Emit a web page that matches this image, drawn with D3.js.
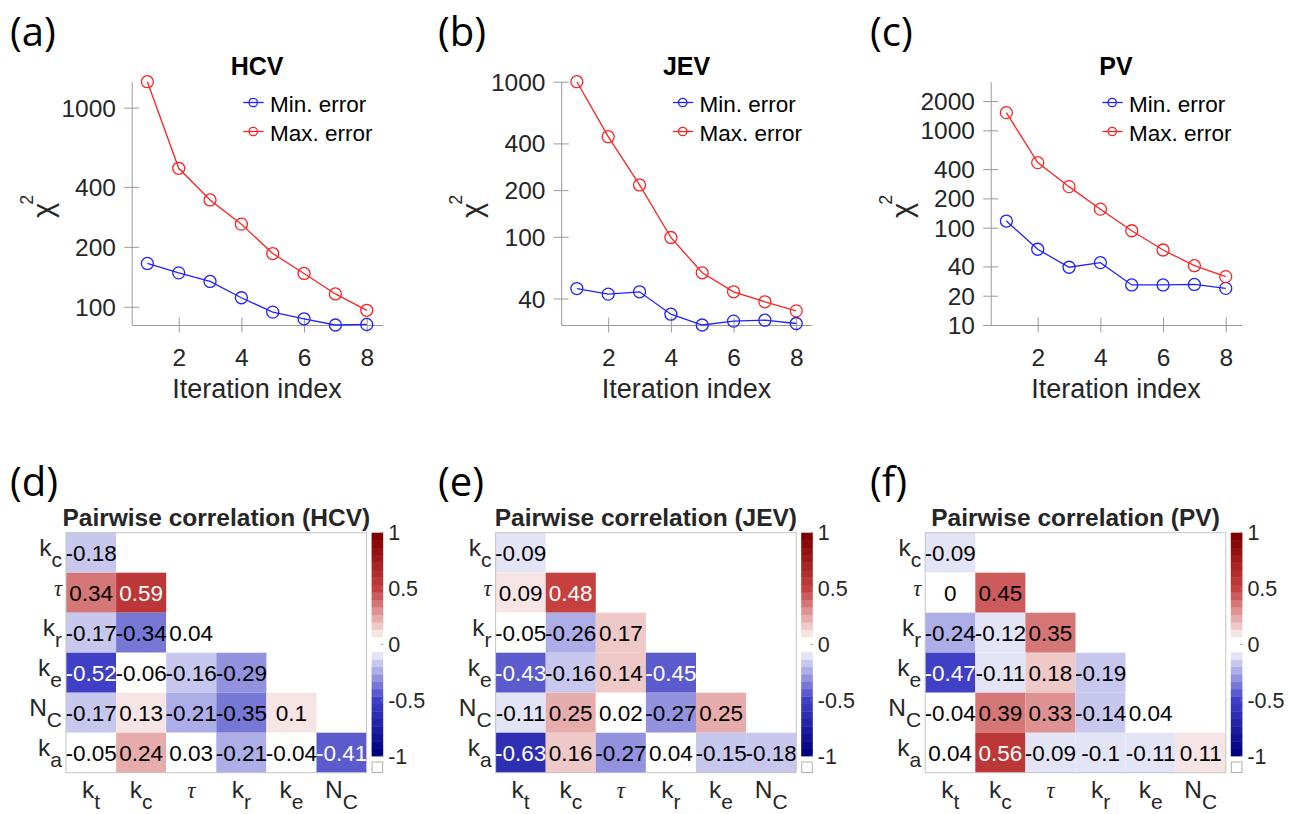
<!DOCTYPE html>
<html>
<head>
<meta charset="utf-8">
<script src="https://cdn.jsdelivr.net/npm/d3@7"></script>
<style>
  html, body { margin: 0; padding: 0; background: #ffffff; }
  svg { display: block; }
</style>
</head>
<body>
<svg id="chart" width="1295" height="814"></svg>
<script>
// ---------------- DATA ----------------
const iterations = [1, 2, 3, 4, 5, 6, 7, 8];
const xTickValues = [2, 4, 6, 8];

const hcvMinError = [165, 148, 134, 111, 94, 87, 81, 81.5];
const hcvMaxError = [1350, 496, 344, 260, 185, 147, 116, 96];
const hcvYTicks = [100, 200, 400, 1000];

const jevMinError = [46.4, 42.7, 44.2, 31.7, 27, 28.6, 29, 27.6];
const jevMaxError = [1000, 442, 216, 99, 58.6, 44.2, 38.1, 33.3];
const jevYTicks = [40, 100, 200, 400, 1000];

const pvMinError = [117, 60, 39.2, 43.7, 25.8, 25.8, 26.1, 23.8];
const pvMaxError = [1520, 466, 264, 155, 93, 59, 40.7, 31.4];
const pvYTicks = [10, 20, 40, 100, 200, 400, 1000, 2000];
const pvYDomain = [10, 3162];

const seriesNames = ["Min. error", "Max. error"];
const lineTitles = ["HCV", "JEV", "PV"];

const heatRowLabels = ["k_c", "τ", "k_r", "k_e", "N_C", "k_a"];
const heatColLabels = ["k_t", "k_c", "τ", "k_r", "k_e", "N_C"];

const hcvCorr = [
  [-0.18],
  [0.34, 0.59],
  [-0.17, -0.34, 0.04],
  [-0.52, -0.06, -0.16, -0.29],
  [-0.17, 0.13, -0.21, -0.35, 0.1],
  [-0.05, 0.24, 0.03, -0.21, -0.04, -0.41]
];
const jevCorr = [
  [-0.09],
  [0.09, 0.48],
  [-0.05, -0.26, 0.17],
  [-0.43, -0.16, 0.14, -0.45],
  [-0.11, 0.25, 0.02, -0.27, 0.25],
  [-0.63, 0.16, -0.27, 0.04, -0.15, -0.18]
];
const pvCorr = [
  [-0.09],
  [0, 0.45],
  [-0.24, -0.12, 0.35],
  [-0.47, -0.11, 0.18, -0.19],
  [-0.04, 0.39, 0.33, -0.14, 0.04],
  [0.04, 0.56, -0.09, -0.1, -0.11, 0.11]
];
const heatTitles = ["Pairwise correlation (HCV)", "Pairwise correlation (JEV)", "Pairwise correlation (PV)"];
const colorbarTicks = [-1, -0.5, 0, 0.5, 1];
const panelTags = ["(a)", "(b)", "(c)", "(d)", "(e)", "(f)"];

// ---------------- STYLE / LAYOUT ----------------
const SANS = "'Liberation Sans', Arial, Helvetica, sans-serif";
const SERIF = "'Liberation Serif', 'Times New Roman', serif";
const TAGFONT = "'Open Sans', 'Noto Sans', sans-serif";
const AXIS_COLOR = "#9a9a9a";
const TEXT_COLOR = "#262626";
const BLUE = "#2222ff";
const RED = "#ff2222";

const svg = d3.select("#chart");

// ---------------- LINE CHARTS ----------------
const lineConfigs = [
  { min: hcvMinError, max: hcvMaxError, ticks: hcvYTicks, domain: d3.extent(hcvMinError.concat(hcvMaxError)) },
  { min: jevMinError, max: jevMaxError, ticks: jevYTicks, domain: d3.extent(jevMinError.concat(jevMaxError)) },
  { min: pvMinError, max: pvMaxError, ticks: pvYTicks, domain: pvYDomain }
];

const plotTop = 81.7, plotBottom = 325, plotWidth = 250.7;

lineConfigs.forEach((cfg, i) => {
  const L = 131.7 + i * 429.5;
  const g = svg.append("g");
  const x = d3.scaleLinear().domain([0.5, 8.5]).range([L, L + plotWidth]);
  const y = d3.scaleLog().domain(cfg.domain).range([plotBottom, plotTop]);

  // x axis
  const gx = g.append("g")
    .attr("transform", `translate(0,${plotBottom})`)
    .call(d3.axisBottom(x).tickValues(xTickValues).tickSizeInner(7.5).tickSizeOuter(0).tickPadding(16));
  gx.selectAll(".tick line").attr("y1", -7.5).attr("stroke", AXIS_COLOR);
  gx.select(".domain").attr("stroke", AXIS_COLOR);
  gx.selectAll(".tick text").attr("font-family", SANS).attr("font-size", 24.5).attr("fill", TEXT_COLOR);

  // y axis
  const gy = g.append("g")
    .attr("transform", `translate(${L},0)`)
    .call(d3.axisLeft(y).tickValues(cfg.ticks).tickFormat(d3.format("d")).tickSizeInner(7.5).tickSizeOuter(0).tickPadding(8.3));
  gy.selectAll(".tick line").attr("x1", 7.5).attr("stroke", AXIS_COLOR);
  gy.select(".domain").attr("stroke", AXIS_COLOR);
  gy.selectAll(".tick text").attr("font-family", SANS).attr("font-size", 24.5).attr("fill", TEXT_COLOR).attr("dy", "0.35em");

  // axis labels
  g.append("text")
    .attr("x", L + plotWidth / 2).attr("y", 398)
    .attr("text-anchor", "middle")
    .attr("font-family", SANS).attr("font-size", 27).attr("fill", TEXT_COLOR)
    .text("Iteration index");

  const yl = g.append("text")
    .attr("transform", `translate(${L - 79},218) rotate(-90)`)
    .attr("font-family", SANS).attr("fill", TEXT_COLOR);
  yl.append("tspan").attr("font-size", 29).text("χ");
  yl.append("tspan").attr("font-size", 18).attr("dy", -20).attr("dx", -2).text("2");

  // title
  g.append("text")
    .attr("x", L + plotWidth / 2).attr("y", 75)
    .attr("text-anchor", "middle")
    .attr("font-family", SANS).attr("font-weight", "bold").attr("font-size", 25).attr("fill", "#000")
    .text(lineTitles[i]);

  // series
  const series = [{ vals: cfg.min, color: BLUE }, { vals: cfg.max, color: RED }];
  series.forEach(s => {
    const line = d3.line().x((d, k) => x(iterations[k])).y(d => y(d));
    g.append("path").datum(s.vals)
      .attr("d", line).attr("fill", "none").attr("stroke", s.color).attr("stroke-width", 1.3);
    g.selectAll(null).data(s.vals).enter().append("circle")
      .attr("cx", (d, k) => x(iterations[k])).attr("cy", d => y(d))
      .attr("r", 6).attr("fill", "none").attr("stroke", s.color).attr("stroke-width", 1.3);
  });

  // legend
  const legY = [102.5, 131.5];
  series.forEach((s, k) => {
    const lg = g.append("g");
    lg.append("line").attr("x1", L + 111.6).attr("x2", L + 132).attr("y1", legY[k]).attr("y2", legY[k])
      .attr("stroke", s.color).attr("stroke-width", 1.3);
    lg.append("circle").attr("cx", L + 121.5).attr("cy", legY[k]).attr("r", 4.2)
      .attr("fill", "none").attr("stroke", s.color).attr("stroke-width", 1.3);
    lg.append("text").attr("x", L + 138.3).attr("y", legY[k] + 9.5)
      .attr("font-family", SANS).attr("font-size", 22.5).attr("fill", "#000")
      .text(seriesNames[k]);
  });

  // panel tag
  svg.append("text").attr("x", [10, 438, 870][i]).attr("y", 46)
    .attr("font-family", TAGFONT).attr("font-size", 40).attr("fill", "#000")
    .text(panelTags[i]);
});

// ---------------- HEATMAPS ----------------
const NBINS = 30;
const colorCont = d3.scaleLinear()
  .domain([-1, -0.5, 0, 0.5, 1])
  .range(["#000080", "#4040c6", "#ffffff", "#c64040", "#800000"])
  .interpolate(d3.interpolateRgb);
function binIndex(v) {
  let k = Math.floor((v + 1) / 2 * NBINS + 1e-9);
  return Math.max(0, Math.min(NBINS - 1, k));
}
function binColor(k) {
  const half = NBINS / 2;
  const t = k < half ? -1 + k / (half - 1) : (k - half) / (half - 1);
  return colorCont(t);
}
function cellColor(v) { return binColor(binIndex(v)); }
function textColorFor(fill) {
  const c = d3.rgb(fill);
  const lum = 0.2126 * c.r + 0.7152 * c.g + 0.0722 * c.b;
  return lum < 105 ? "#ffffff" : "#000000";
}
function addRichLabel(textSel, label, mainSize, subSize) {
  const parts = label.split("_");
  const base = parts[0];
  if (base === "τ") {
    textSel.append("tspan").attr("font-family", SERIF).attr("font-style", "italic")
      .attr("font-size", mainSize - 2).text(base);
  } else {
    textSel.append("tspan").attr("font-size", mainSize).text(base);
  }
  if (parts[1]) {
    textSel.append("tspan").attr("font-size", subSize).attr("dy", 11).text(parts[1]);
  }
}

const corrSets = [hcvCorr, jevCorr, pvCorr];
const heatTop = 532.7, heatW = 300.6, heatH = 240;

corrSets.forEach((mat, i) => {
  const L = 66 + i * 429.6;
  const g = svg.append("g");
  const xb = d3.scaleBand().domain(heatColLabels.map((d, k) => k)).range([L, L + heatW]);
  const yb = d3.scaleBand().domain(heatRowLabels.map((d, k) => k)).range([heatTop, heatTop + heatH]);

  const cells = [];
  mat.forEach((row, r) => row.forEach((v, c) => cells.push({ r, c, v })));

  g.append("rect").attr("x", L).attr("y", heatTop).attr("width", heatW).attr("height", heatH)
    .attr("fill", "#ffffff");

  g.selectAll(null).data(cells).enter().append("rect")
    .attr("x", d => xb(d.c)).attr("y", d => yb(d.r))
    .attr("width", xb.bandwidth()).attr("height", yb.bandwidth())
    .attr("fill", d => cellColor(d.v));

  g.selectAll(null).data(cells).enter().append("text")
    .attr("x", d => xb(d.c) + xb.bandwidth() / 2)
    .attr("y", d => yb(d.r) + yb.bandwidth() / 2 + 8)
    .attr("text-anchor", "middle")
    .attr("font-family", SANS).attr("font-size", 22.5)
    .attr("fill", d => textColorFor(cellColor(d.v)))
    .text(d => String(d.v));

  g.append("rect").attr("x", L).attr("y", heatTop).attr("width", heatW).attr("height", heatH)
    .attr("fill", "none").attr("stroke", "#c4c4c4").attr("stroke-width", 1);

  heatRowLabels.forEach((lab, r) => {
    const t = g.append("text")
      .attr("x", L - 4).attr("y", yb(r) + yb.bandwidth() / 2 + 3.5)
      .attr("text-anchor", "end").attr("font-family", SANS).attr("fill", TEXT_COLOR);
    addRichLabel(t, lab, 24.5, 21);
  });
  heatColLabels.forEach((lab, c) => {
    const t = g.append("text")
      .attr("x", xb(c) + xb.bandwidth() / 2).attr("y", 798)
      .attr("text-anchor", "middle").attr("font-family", SANS).attr("fill", TEXT_COLOR);
    addRichLabel(t, lab, 24.5, 21);
  });

  g.append("text")
    .attr("x", L + heatW / 2).attr("y", 526)
    .attr("text-anchor", "middle")
    .attr("font-family", SANS).attr("font-weight", "bold").attr("font-size", 24.5).attr("fill", TEXT_COLOR)
    .text(heatTitles[i]);

  // colorbar
  const cbx = L + heatW + 5, cbw = 11.6;
  const cy = d3.scaleLinear().domain([-1, 1]).range([756, heatTop]);
  const bins = d3.range(NBINS);
  g.selectAll(null).data(bins).enter().append("rect")
    .attr("x", cbx).attr("width", cbw)
    .attr("y", k => cy(-1 + (k + 1) * 2 / NBINS))
    .attr("height", k => cy(-1 + k * 2 / NBINS) - cy(-1 + (k + 1) * 2 / NBINS) + 0.4)
    .attr("fill", k => binColor(k));
  g.selectAll(null).data(colorbarTicks).enter().append("line")
    .attr("x1", cbx + cbw - 2.5).attr("x2", cbx + cbw)
    .attr("y1", d => cy(d)).attr("y2", d => cy(d))
    .attr("stroke", "#8a8a8a").attr("stroke-width", 0.8);
  g.selectAll(null).data(colorbarTicks).enter().append("text")
    .attr("x", cbx + cbw + 5).attr("y", d => cy(d) + 7.5)
    .attr("font-family", SANS).attr("font-size", 21.5).attr("fill", TEXT_COLOR)
    .text(d => String(d));
  g.append("rect").attr("x", cbx + 0.5).attr("y", 762).attr("width", cbw - 1).attr("height", 10.5)
    .attr("fill", "#ffffff").attr("stroke", "#b0b0b0").attr("stroke-width", 1);

  svg.append("text").attr("x", [10, 438, 870][i]).attr("y", 496)
    .attr("font-family", TAGFONT).attr("font-size", 40).attr("fill", "#000")
    .text(panelTags[i + 3]);
});
</script>
</body>
</html>
